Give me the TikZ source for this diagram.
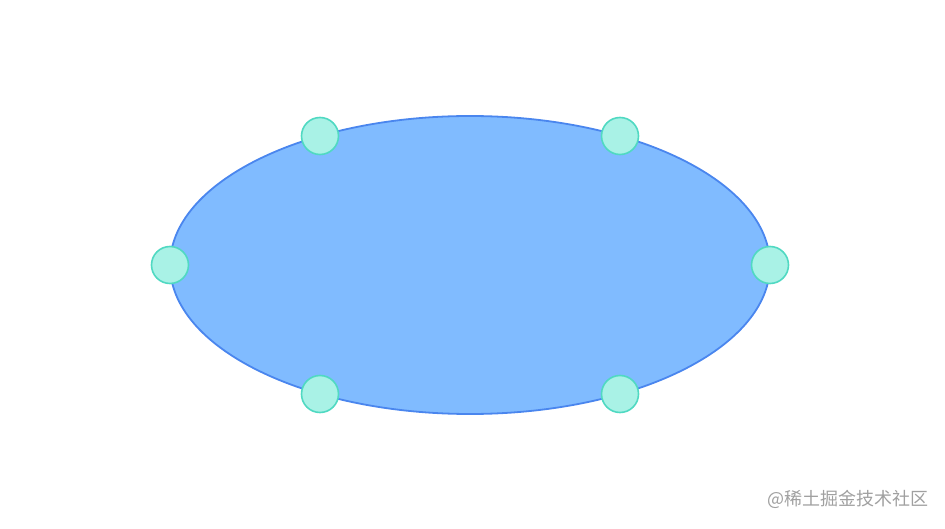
\documentclass[tikz,border=0pt]{standalone}
\usepackage{fontspec}
\newfontfamily\cjk{Noto Sans CJK SC}
\definecolor{shapefill}{HTML}{80BBFF}
\definecolor{shapeline}{HTML}{4A86EE}
\definecolor{handlefill}{HTML}{A9F2E6}
\definecolor{handleline}{HTML}{50D9C2}
\definecolor{markgray}{HTML}{A0A0A0}
\tikzset{
  handle/.style={circle,draw=handleline,fill=handlefill,line width=1.6pt,minimum size=37pt,inner sep=0pt},
}
\begin{document}
\begin{tikzpicture}[x=1pt,y=1pt]
      \useasboundingbox (0,0) rectangle (945,528);
      \draw[shapeline,fill=shapefill,line width=1.8pt] (470,263) ellipse [x radius=300,y radius=149];
      \node[handle] (w) at (170,263) {};
      \node[handle] (e) at (770,263) {};
      \node[handle] (nw) at (320,392) {};
      \node[handle] (ne) at (620,392) {};
      \node[handle] (sw) at (320,134) {};
      \node[handle] (se) at (620,134) {};
      \node[anchor=east,inner sep=0pt,text=markgray,font=\cjk\fontsize{18}{20}\selectfont] (mark) at (929,29) {@稀土掘金技术社区};
    \end{tikzpicture}
\end{document}
